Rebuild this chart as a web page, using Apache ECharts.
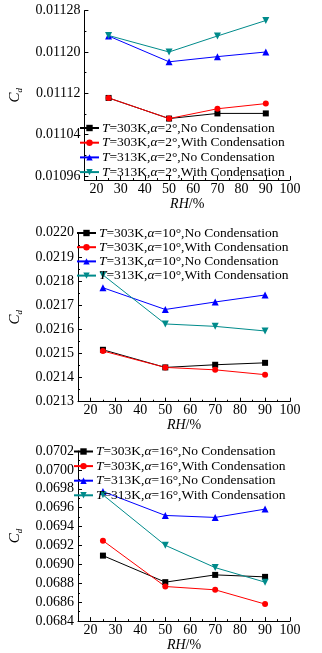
<!DOCTYPE html>
<html>
<head>
<meta charset="utf-8">
<script src="https://cdn.jsdelivr.net/npm/echarts@6/dist/echarts.min.js"></script>
<style>
html, body { margin: 0; padding: 0; background: #fff; }
#chart { width: 322px; height: 653px; }
</style>
</head>
<body>
<div id="chart"></div>
<script>
// RH values (x axis)
var rh = [25, 50, 70, 90]

// alpha = 2
var a2_303_no = [0.011111, 0.011071, 0.011081, 0.011081]
var a2_303_with = [0.011111, 0.011071, 0.011090, 0.011100]
var a2_313_no = [0.011231, 0.011181, 0.011191, 0.011200]
var a2_313_with = [0.011232, 0.011200, 0.011231, 0.011261]

// alpha = 10
var a10_303_no = [0.021515, 0.021442, 0.021453, 0.021461]
var a10_303_with = [0.021510, 0.021442, 0.021432, 0.021412]
var a10_313_no = [0.021772, 0.021682, 0.021713, 0.021742]
var a10_313_with = [0.021825, 0.021622, 0.021612, 0.021593]

// alpha = 16
var a16_303_no = [0.069093, 0.068812, 0.068889, 0.068868]
var a16_303_with = [0.069251, 0.068766, 0.068731, 0.068580]
var a16_313_no = [0.069771, 0.069518, 0.069497, 0.069585]
var a16_313_with = [0.069736, 0.069202, 0.068966, 0.068812]

// tick labels
var xTicks = [20, 30, 40, 50, 60, 70, 80, 90, 100]
var xMinor = [25, 35, 45, 55, 65, 75, 85, 95]
var yTicks1 = [0.01096, 0.01104, 0.01112, 0.01120, 0.01128]
var yMinor1 = [0.01100, 0.01108, 0.01116, 0.01124]
var yTicks2 = [0.0213, 0.0214, 0.0215, 0.0216, 0.0217, 0.0218, 0.0219, 0.0220]
var yMinor2 = [0.02135, 0.02145, 0.02155, 0.02165, 0.02175, 0.02185, 0.02195]
var yTicks3 = [0.0684, 0.0686, 0.0688, 0.0690, 0.0692, 0.0694, 0.0696, 0.0698, 0.0700, 0.0702]
var yMinor3 = [0.0685, 0.0687, 0.0689, 0.0691, 0.0693, 0.0695, 0.0697, 0.0699, 0.0701]

var FONT = 'Liberation Serif'
var colors = ['#000000', '#ff0000', '#0000ff', '#008b8b']
var symbols = ['rect', 'circle', 'triangle', 'triangle']
var rotates = [0, 0, 0, 180]
var sizes = [6, 6, 7, 7]

var panels = [
	{ alpha: 2, data: [a2_303_no, a2_303_with, a2_313_no, a2_313_with], top: 10.7, height: 169.3, min: 0.010952, max: 0.01128, ticks: yTicks1, minor: yMinor1, digits: 5, legendTop: 121, gap: 13.7 },
	{ alpha: 10, data: [a10_303_no, a10_303_with, a10_313_no, a10_313_with], top: 232.7, height: 169, min: 0.0213, max: 0.0220, ticks: yTicks2, minor: yMinor2, digits: 4, legendTop: 226, gap: 13.2 },
	{ alpha: 16, data: [a16_303_no, a16_303_with, a16_313_no, a16_313_with], top: 451, height: 170.7, min: 0.0684, max: 0.0702, ticks: yTicks3, minor: yMinor3, digits: 4, legendTop: 444.5, gap: 13.6 }
]
var legendLeft = [79, 76, 73]

var grid = [], xAxis = [], yAxis = [], series = [], legend = []

panels.forEach(function(p, i) {
	grid.push({ left: 67.5, width: 222.5, top: p.top, height: p.height })
	// main x axis
	xAxis.push({
		gridIndex: i, type: 'value', min: 15, max: 100,
		name: '{i|RH}/%', nameLocation: 'middle', nameGap: 14,
		nameTextStyle: { fontFamily: FONT, fontSize: 14, color: '#000', rich: { i: { fontStyle: 'italic', fontFamily: FONT, fontSize: 14 } } },
		axisLine: { lineStyle: { color: '#000', width: 1 } },
		axisTick: { inside: true, length: 4, customValues: xTicks, lineStyle: { color: '#000' } },
		axisLabel: { customValues: xTicks, margin: 2, fontFamily: FONT, fontSize: 14, color: '#000' },
		splitLine: { show: false }
	})
	// minor x ticks
	xAxis.push({
		gridIndex: i, type: 'value', min: 15, max: 100, position: 'bottom',
		axisLine: { show: false },
		axisTick: { inside: true, length: 2, customValues: xMinor, lineStyle: { color: '#000' } },
		axisLabel: { show: false, customValues: xMinor },
		splitLine: { show: false }
	})
	// main y axis
	yAxis.push({
		gridIndex: i, type: 'value', min: p.min, max: p.max,
		name: '{c|C}{d|d}', nameLocation: 'middle', nameGap: 54, nameRotate: 90,
		nameTextStyle: { rich: {
			c: { fontStyle: 'italic', fontFamily: FONT, fontSize: 15, color: '#000', lineHeight: 17 },
			d: { fontStyle: 'italic', fontFamily: FONT, fontSize: 9, color: '#000', verticalAlign: 'bottom', lineHeight: 10 }
		} },
		axisLine: { show: true, lineStyle: { color: '#000', width: 1 } },
		axisTick: { show: true, inside: true, length: 4, customValues: p.ticks, lineStyle: { color: '#000' } },
		axisLabel: {
			customValues: p.ticks, margin: 4, fontFamily: FONT, fontSize: 14, color: '#000',
			formatter: (function(d) { return function(v) { return v.toFixed(d) } })(p.digits)
		},
		splitLine: { show: false }
	})
	// minor y ticks
	yAxis.push({
		gridIndex: i, type: 'value', min: p.min, max: p.max, position: 'left',
		axisLine: { show: false },
		axisTick: { show: true, inside: true, length: 2, customValues: p.minor, lineStyle: { color: '#000' } },
		axisLabel: { show: false, customValues: p.minor },
		splitLine: { show: false }
	})

	var names = [
		'T=303K,α=' + p.alpha + '°,No Condensation',
		'T=303K,α=' + p.alpha + '°,With Condensation',
		'T=313K,α=' + p.alpha + '°,No Condensation',
		'T=313K,α=' + p.alpha + '°,With Condensation'
	]
	p.data.forEach(function(vals, k) {
		series.push({
			name: names[k], type: 'line',
			xAxisIndex: i * 2, yAxisIndex: i * 2,
			data: rh.map(function(x, j) { return [x, vals[j]] }),
			symbol: symbols[k], symbolRotate: rotates[k], symbolSize: sizes[k],
			showAllSymbol: true,
			lineStyle: { color: colors[k], width: 1 },
			itemStyle: { color: colors[k] },
			emphasis: { disabled: true },
			animation: false
		})
	})
	legend.push({
		data: names, orient: 'vertical', left: legendLeft[i], top: p.legendTop,
		itemWidth: 19, itemHeight: 8, itemGap: p.gap - 13, padding: 0,
		textStyle: { fontFamily: FONT, fontSize: 13.5, lineHeight: 13, color: '#000', padding: [0, 0, 0, -2],
			rich: { i: { fontStyle: 'italic', fontFamily: FONT, fontSize: 13.5, lineHeight: 13, color: '#000' } } },
		formatter: function(n) { return n.replace('T=', '{i|T}=').replace('α', '{i|α}') },
		selectedMode: false
	})
})

var chart = echarts.init(document.getElementById('chart'))
chart.setOption({
	backgroundColor: '#fff',
	animation: false,
	grid: grid,
	xAxis: xAxis,
	yAxis: yAxis,
	legend: legend,
	series: series
})
</script>
</body>
</html>
